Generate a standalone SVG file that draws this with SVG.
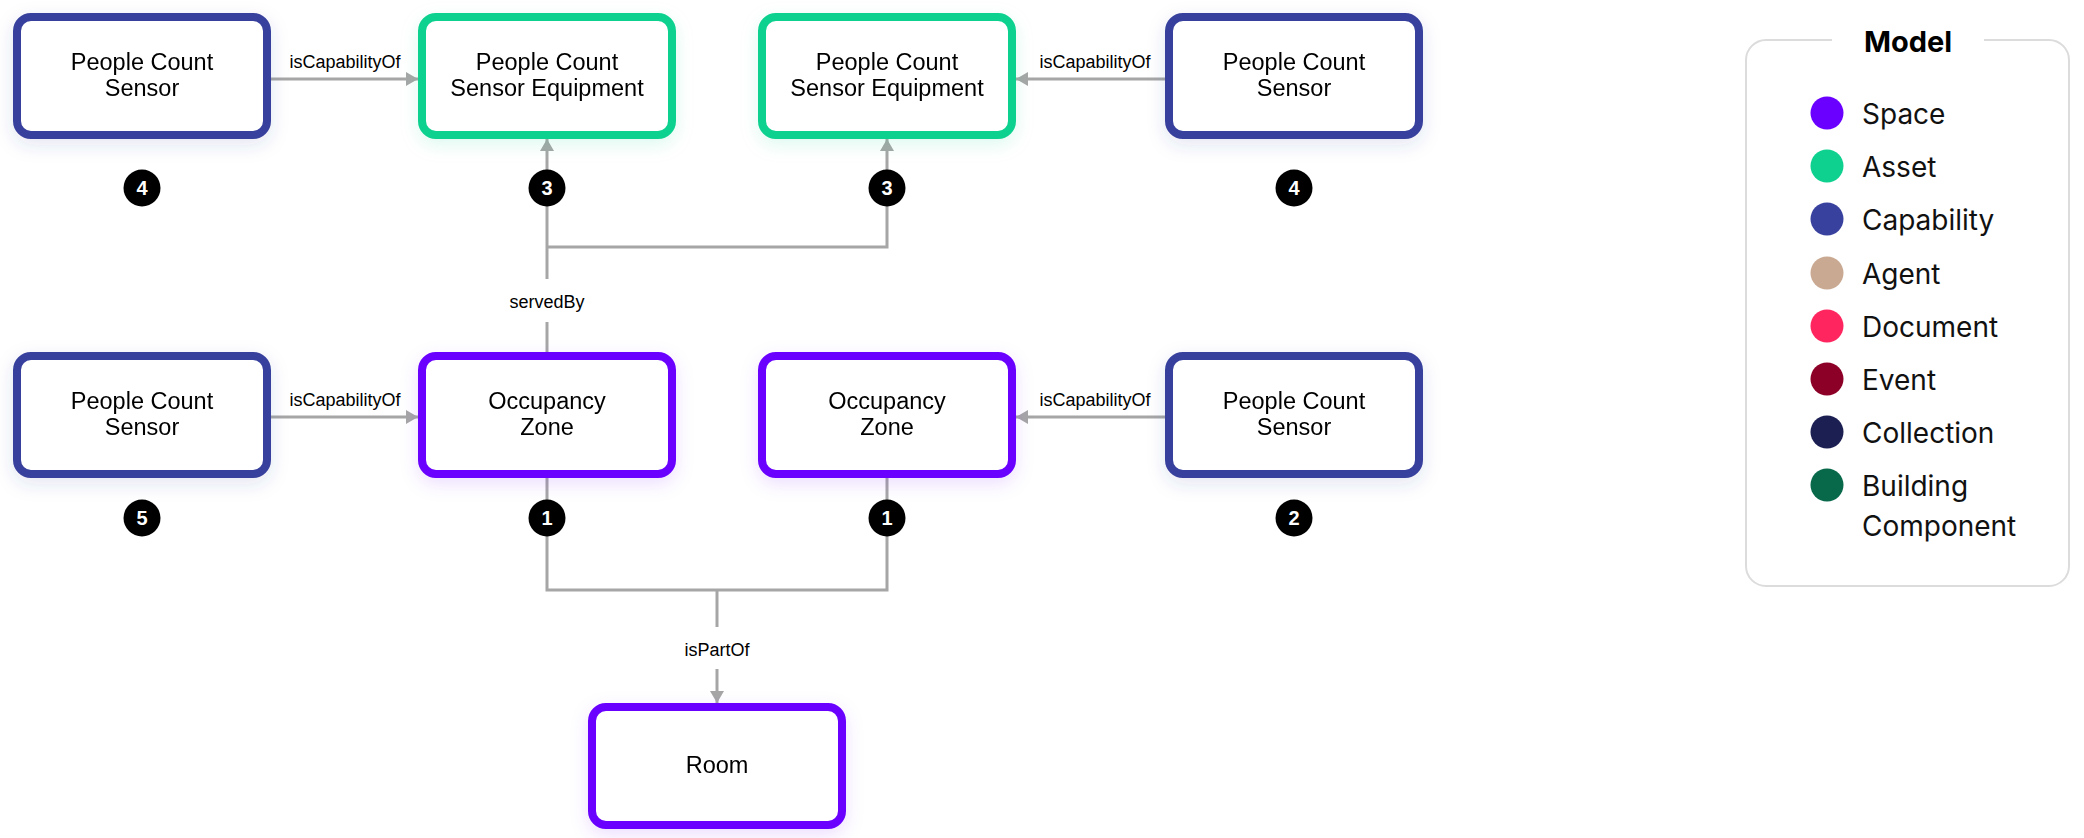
<svg xmlns="http://www.w3.org/2000/svg" width="2084" height="838" viewBox="0 0 2084 838">
<style>
.node{fill:#fff;stroke-width:8}
.cap{stroke:#38419d}
.asset{stroke:#0ed18f}
.space{stroke:#6a00ff}
.nt{font-family:"Liberation Sans",Arial,sans-serif;font-size:23.5px;fill:#000;text-anchor:middle}
.el{font-family:"Liberation Sans",Arial,sans-serif;font-size:18px;fill:#000;text-anchor:middle}
.ln{fill:none;stroke:#a6a6a6;stroke-width:3}
.bd circle{fill:#000}
.bd text{font-family:"Liberation Sans",Arial,sans-serif;font-size:20px;font-weight:bold;fill:#fff;text-anchor:middle}
.lg{font-family:Inter,"Noto Sans",sans-serif;font-size:28px;fill:#111}
</style>
<defs>
<marker id="ah" viewBox="0 0 12 14" refX="12" refY="7" markerWidth="12" markerHeight="14" markerUnits="userSpaceOnUse" orient="auto">
<path d="M0,0 L12,7 L0,14 Z" fill="#a6a6a6"/>
</marker>
<filter id="shC" x="-20%" y="-30%" width="140%" height="170%"><feDropShadow dx="0" dy="6" stdDeviation="9" flood-color="#38419d" flood-opacity="0.13"/></filter>
<filter id="shA" x="-20%" y="-30%" width="140%" height="170%"><feDropShadow dx="0" dy="6" stdDeviation="9" flood-color="#0ed18f" flood-opacity="0.13"/></filter>
<filter id="shS" x="-20%" y="-30%" width="140%" height="170%"><feDropShadow dx="0" dy="6" stdDeviation="9" flood-color="#6a00ff" flood-opacity="0.13"/></filter>
</defs>
<rect width="2084" height="838" fill="#fff"/>

<g id="connectors">
<line class="ln" x1="271" y1="79" x2="418" y2="79" marker-end="url(#ah)"/>
<text class="el" x="345" y="68">isCapabilityOf</text>
<line class="ln" x1="1165" y1="79" x2="1016" y2="79" marker-end="url(#ah)"/>
<text class="el" x="1095" y="68">isCapabilityOf</text>
<line class="ln" x1="271" y1="417" x2="418" y2="417" marker-end="url(#ah)"/>
<text class="el" x="345" y="406">isCapabilityOf</text>
<line class="ln" x1="1165" y1="417" x2="1016" y2="417" marker-end="url(#ah)"/>
<text class="el" x="1095" y="406">isCapabilityOf</text>
<line class="ln" x1="547" y1="279" x2="547" y2="139" marker-end="url(#ah)"/>
<polyline class="ln" points="547,247 887,247 887,139" marker-end="url(#ah)"/>
<line class="ln" x1="547" y1="322" x2="547" y2="352"/>
<text class="el" x="547" y="308">servedBy</text>
<polyline class="ln" points="547,478 547,590 887,590 887,478"/>
<line class="ln" x1="717" y1="590" x2="717" y2="627"/>
<text class="el" x="717" y="656">isPartOf</text>
<line class="ln" x1="717" y1="669" x2="717" y2="703" marker-end="url(#ah)"/>
</g>

<g id="node-pcs-1" filter="url(#shC)">
<rect class="node cap" x="17" y="17" width="250" height="118" rx="14"/>
<text class="nt" x="142" y="70">People Count</text>
<text class="nt" x="142" y="96">Sensor</text>
</g>
<g id="node-pcse-1" filter="url(#shA)">
<rect class="node asset" x="422" y="17" width="250" height="118" rx="14"/>
<text class="nt" x="547" y="70">People Count</text>
<text class="nt" x="547" y="96">Sensor Equipment</text>
</g>
<g id="node-pcse-2" filter="url(#shA)">
<rect class="node asset" x="762" y="17" width="250" height="118" rx="14"/>
<text class="nt" x="887" y="70">People Count</text>
<text class="nt" x="887" y="96">Sensor Equipment</text>
</g>
<g id="node-pcs-2" filter="url(#shC)">
<rect class="node cap" x="1169" y="17" width="250" height="118" rx="14"/>
<text class="nt" x="1294" y="70">People Count</text>
<text class="nt" x="1294" y="96">Sensor</text>
</g>
<g id="node-pcs-3" filter="url(#shC)">
<rect class="node cap" x="17" y="356" width="250" height="118" rx="14"/>
<text class="nt" x="142" y="409">People Count</text>
<text class="nt" x="142" y="435">Sensor</text>
</g>
<g id="node-oz-1" filter="url(#shS)">
<rect class="node space" x="422" y="356" width="250" height="118" rx="14"/>
<text class="nt" x="547" y="409">Occupancy</text>
<text class="nt" x="547" y="435">Zone</text>
</g>
<g id="node-oz-2" filter="url(#shS)">
<rect class="node space" x="762" y="356" width="250" height="118" rx="14"/>
<text class="nt" x="887" y="409">Occupancy</text>
<text class="nt" x="887" y="435">Zone</text>
</g>
<g id="node-pcs-4" filter="url(#shC)">
<rect class="node cap" x="1169" y="356" width="250" height="118" rx="14"/>
<text class="nt" x="1294" y="409">People Count</text>
<text class="nt" x="1294" y="435">Sensor</text>
</g>
<g id="node-room" filter="url(#shS)">
<rect class="node space" x="592" y="707" width="250" height="118" rx="14"/>
<text class="nt" x="717" y="773">Room</text>
</g>

<g id="badges" class="bd">
<circle cx="142" cy="188" r="18.5"/><text x="142" y="195">4</text>
<circle cx="547" cy="188" r="18.5"/><text x="547" y="195">3</text>
<circle cx="887" cy="188" r="18.5"/><text x="887" y="195">3</text>
<circle cx="1294" cy="188" r="18.5"/><text x="1294" y="195">4</text>
<circle cx="142" cy="518" r="18.5"/><text x="142" y="525">5</text>
<circle cx="547" cy="518" r="18.5"/><text x="547" y="525">1</text>
<circle cx="887" cy="518" r="18.5"/><text x="887" y="525">1</text>
<circle cx="1294" cy="518" r="18.5"/><text x="1294" y="525">2</text>
</g>

<g id="legend">
<path d="M1832,40 H1766 A20,20 0 0 0 1746,60 V566 A20,20 0 0 0 1766,586 H2049 A20,20 0 0 0 2069,566 V60 A20,20 0 0 0 2049,40 H1984" fill="none" stroke="#dcdcdc" stroke-width="2"/>
<text x="1908" y="52" text-anchor="middle" style="font-family:Inter,'Noto Sans',sans-serif;font-size:29px;font-weight:bold;fill:#000">Model</text>
<circle cx="1827" cy="113" r="16.5" fill="#6a00ff"/><text class="lg" x="1862" y="124">Space</text>
<circle cx="1827" cy="166" r="16.5" fill="#0ed18f"/><text class="lg" x="1862" y="177">Asset</text>
<circle cx="1827" cy="219" r="16.5" fill="#38419d"/><text class="lg" x="1862" y="230">Capability</text>
<circle cx="1827" cy="273" r="16.5" fill="#c9a992"/><text class="lg" x="1862" y="284">Agent</text>
<circle cx="1827" cy="326" r="16.5" fill="#ff255f"/><text class="lg" x="1862" y="337">Document</text>
<circle cx="1827" cy="379" r="16.5" fill="#8c0027"/><text class="lg" x="1862" y="390">Event</text>
<circle cx="1827" cy="432" r="16.5" fill="#1b1f52"/><text class="lg" x="1862" y="443">Collection</text>
<circle cx="1827" cy="485" r="16.5" fill="#08684a"/><text class="lg" x="1862" y="496">Building</text>
<text class="lg" x="1862" y="536">Component</text>
</g>
</svg>
